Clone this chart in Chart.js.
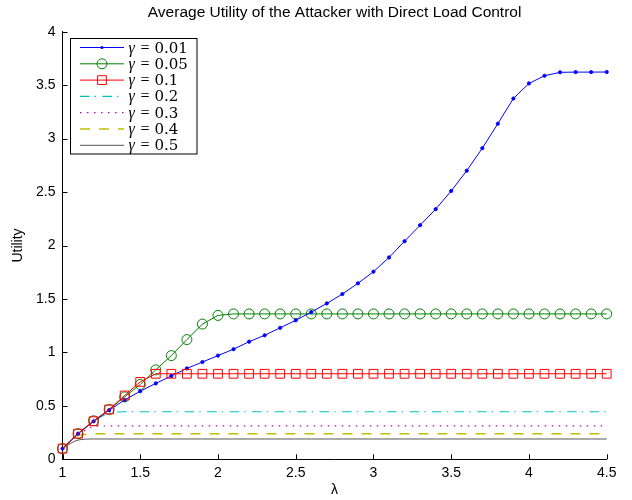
<!DOCTYPE html>
<html>
<head>
<meta charset="utf-8">
<script src="https://cdn.jsdelivr.net/npm/chart.js@4.4.0/dist/chart.umd.min.js"></script>
<style>
  html, body { margin: 0; padding: 0; background: #fff; }
</style>
</head>
<body>
<canvas id="utilityChart" width="632" height="500"></canvas>
<script>
// lambda values (x axis)
const lambdas = [1.0, 1.1, 1.2, 1.3, 1.4, 1.5, 1.6, 1.7, 1.8, 1.9,
                 2.0, 2.1, 2.2, 2.3, 2.4, 2.5, 2.6, 2.7, 2.8, 2.9,
                 3.0, 3.1, 3.2, 3.3, 3.4, 3.5, 3.6, 3.7, 3.8, 3.9,
                 4.0, 4.1, 4.2, 4.3, 4.4, 4.5];

const gammaLabels = ['0.01', '0.05', '0.1', '0.2', '0.3', '0.4', '0.5'];

const util001 = [0.10, 0.24, 0.355, 0.46, 0.555, 0.637, 0.71, 0.78, 0.85, 0.91,
                 0.97, 1.03, 1.10, 1.16, 1.23, 1.30, 1.377, 1.458, 1.546, 1.646,
                 1.755, 1.888, 2.04, 2.19, 2.34, 2.51, 2.70, 2.91, 3.14, 3.375,
                 3.516, 3.588, 3.62, 3.622, 3.622, 3.623];
const util005 = [0.10, 0.24, 0.36, 0.466, 0.584, 0.70, 0.837, 0.97, 1.12, 1.265,
                 1.346, 1.36, 1.36, 1.36, 1.36, 1.36, 1.36, 1.36, 1.36, 1.36,
                 1.36, 1.36, 1.36, 1.36, 1.36, 1.36, 1.36, 1.36, 1.36, 1.36,
                 1.36, 1.36, 1.36, 1.36, 1.36, 1.36];
const util01  = [0.10, 0.24, 0.356, 0.466, 0.597, 0.724, 0.80, 0.80, 0.80, 0.80,
                 0.80, 0.80, 0.80, 0.80, 0.80, 0.80, 0.80, 0.80, 0.80, 0.80,
                 0.80, 0.80, 0.80, 0.80, 0.80, 0.80, 0.80, 0.80, 0.80, 0.80,
                 0.80, 0.80, 0.80, 0.80, 0.80, 0.80];
const util02  = [0.10, 0.24, 0.36, 0.44, 0.445, 0.445, 0.445, 0.445, 0.445, 0.445,
                 0.445, 0.445, 0.445, 0.445, 0.445, 0.445, 0.445, 0.445, 0.445, 0.445,
                 0.445, 0.445, 0.445, 0.445, 0.445, 0.445, 0.445, 0.445, 0.445, 0.445,
                 0.445, 0.445, 0.445, 0.445, 0.445, 0.445];
const util03  = [0.10, 0.24, 0.31, 0.312, 0.312, 0.312, 0.312, 0.312, 0.312, 0.312,
                 0.312, 0.312, 0.312, 0.312, 0.312, 0.312, 0.312, 0.312, 0.312, 0.312,
                 0.312, 0.312, 0.312, 0.312, 0.312, 0.312, 0.312, 0.312, 0.312, 0.312,
                 0.312, 0.312, 0.312, 0.312, 0.312, 0.312];
const util04  = [0.10, 0.225, 0.24, 0.24, 0.24, 0.24, 0.24, 0.24, 0.24, 0.24,
                 0.24, 0.24, 0.24, 0.24, 0.24, 0.24, 0.24, 0.24, 0.24, 0.24,
                 0.24, 0.24, 0.24, 0.24, 0.24, 0.24, 0.24, 0.24, 0.24, 0.24,
                 0.24, 0.24, 0.24, 0.24, 0.24, 0.24];
const util05  = [0.10, 0.18, 0.19, 0.19, 0.19, 0.19, 0.19, 0.19, 0.19, 0.19,
                 0.19, 0.19, 0.19, 0.19, 0.19, 0.19, 0.19, 0.19, 0.19, 0.19,
                 0.19, 0.19, 0.19, 0.19, 0.19, 0.19, 0.19, 0.19, 0.19, 0.19,
                 0.19, 0.19, 0.19, 0.19, 0.19, 0.19];

const xTicks = [1, 1.5, 2, 2.5, 3, 3.5, 4, 4.5];
const xTickLabels = ['1', '1.5', '2', '2.5', '3', '3.5', '4', '4.5'];
const yTicks = [0, 0.5, 1, 1.5, 2, 2.5, 3, 3.5, 4];
const yTickLabels = ['0', '0.5', '1', '1.5', '2', '2.5', '3', '3.5', '4'];

const toPoints = vals => lambdas.map((l, i) => ({ x: l, y: vals[i] }));

function series(label, vals, color, extra) {
  return Object.assign({
    label: label,
    data: toPoints(vals),
    borderColor: color,
    backgroundColor: color,
    borderWidth: 1,
    pointRadius: 0,
    pointHoverRadius: 0,
    clip: false,
    tension: 0
  }, extra);
}

const datasets = [
  series(gammaLabels[0], util001, '#0000ff', { pointStyle: 'circle', pointRadius: 1.6, pointBackgroundColor: '#0000ff', order: 1 }),
  series(gammaLabels[1], util005, '#008000', { pointStyle: 'circle', pointRadius: 5, pointBackgroundColor: 'rgba(0,0,0,0)', pointBorderColor: '#008000', pointBorderWidth: 1, order: 2 }),
  series(gammaLabels[2], util01, '#ff0000', { pointStyle: 'rect', pointRadius: 6.2, pointBackgroundColor: 'rgba(0,0,0,0)', pointBorderColor: '#ff0000', pointBorderWidth: 1, order: 0 }),
  series(gammaLabels[3], util02, '#00bfbf', { borderDash: [9.5, 5, 1.5, 6.5], borderWidth: 1.2, order: 3 }),
  series(gammaLabels[4], util03, '#bf00bf', { borderDash: [1.5, 5.5], borderWidth: 1.2, order: 4 }),
  series(gammaLabels[5], util04, '#bfbf00', { borderDash: [10, 9], borderWidth: 1.5, order: 5 }),
  series(gammaLabels[6], util05, '#555555', { cubicInterpolationMode: 'monotone', order: 6 })
];

// center the title over the plot area, like MATLAB does
const titleOverPlot = {
  id: 'titleOverPlot',
  afterLayout(chart) {
    const t = chart.titleBlock;
    const a = chart.chartArea;
    if (!t) return;
    t.left = a.left;
    t.right = a.right;
    t.width = a.right - a.left;
  }
};

// MATLAB-style ticks pointing into the plot
const inwardTicks = {
  id: 'inwardTicks',
  afterDraw(chart) {
    const { ctx, chartArea: a, scales: { x, y } } = chart;
    ctx.save();
    ctx.strokeStyle = '#000';
    ctx.lineWidth = 1;
    ctx.beginPath();
    xTicks.forEach(v => {
      const px = Math.round(x.getPixelForValue(v)) + 0.5;
      ctx.moveTo(px, a.bottom);
      ctx.lineTo(px, a.bottom - 5);
    });
    yTicks.forEach(v => {
      const py = Math.round(y.getPixelForValue(v)) + 0.5;
      ctx.moveTo(a.left, py);
      ctx.lineTo(a.left + 5, py);
    });
    ctx.stroke();
    ctx.restore();
  }
};

// legend box with line + marker samples
const boxLegend = {
  id: 'boxLegend',
  afterDraw(chart) {
    const ctx = chart.ctx;
    const bx = 70.5, by = 38.5, bw = 126.5, bh = 115.5;
    ctx.save();
    ctx.fillStyle = '#fff';
    ctx.fillRect(bx, by, bw, bh);
    ctx.strokeStyle = '#000';
    ctx.lineWidth = 1;
    ctx.strokeRect(bx, by, bw, bh);

    chart.data.datasets.forEach((ds, i) => {
      const yy = 47.5 + i * 16.3;
      ctx.save();
      ctx.strokeStyle = ds.borderColor;
      ctx.lineWidth = ds.borderWidth;
      ctx.setLineDash(ds.borderDash || []);
      ctx.beginPath();
      ctx.moveTo(80, yy);
      ctx.lineTo(124, yy);
      ctx.stroke();
      ctx.setLineDash([]);
      if (ds.pointRadius > 0) {
        ctx.lineWidth = 1;
        ctx.beginPath();
        if (ds.pointStyle === 'rect') {
          const s = ds.pointRadius * Math.SQRT1_2;
          ctx.rect(102 - s, yy - s, 2 * s, 2 * s);
          ctx.strokeStyle = ds.pointBorderColor;
          ctx.stroke();
        } else {
          ctx.arc(102, yy, ds.pointRadius, 0, Math.PI * 2);
          if (ds.pointBorderColor) {
            ctx.strokeStyle = ds.pointBorderColor;
            ctx.stroke();
          } else {
            ctx.fillStyle = ds.borderColor;
            ctx.fill();
          }
        }
      }
      ctx.restore();

      ctx.fillStyle = '#000';
      ctx.textBaseline = 'alphabetic';
      ctx.font = 'italic 16px "Liberation Serif"';
      ctx.fillText('\u03b3', 128.5, yy + 5);
      ctx.font = '16px "Liberation Serif"';
      ctx.fillText('=', 140.5, yy + 5);
      ctx.font = '15px "DejaVu Serif"';
      ctx.fillText(ds.label, 154.5, yy + 5);
    });
    ctx.restore();
  }
};

const baseFont = '"Liberation Sans", Arial, sans-serif';

const ctx = document.getElementById('utilityChart').getContext('2d');
const utilityChart = new Chart(ctx, {
  type: 'line',
  data: { datasets: datasets },
  options: {
    responsive: false,
    animation: false,
    layout: { padding: { left: 0, right: 25.3, top: 0, bottom: 0 } },
    plugins: {
      legend: { display: false },
      tooltip: { enabled: false },
      title: {
        display: true,
        text: 'Average Utility of the Attacker with Direct Load Control',
        color: '#000',
        font: { family: baseFont, size: 15.5, weight: 'normal' },
        padding: { top: 3.7, bottom: 9.4 }
      }
    },
    scales: {
      x: {
        type: 'linear',
        min: 1,
        max: 4.5,
        afterBuildTicks: s => { s.ticks = xTicks.map(v => ({ value: v })); },
        afterFit: s => { s.height = 40.7; },
        grid: { display: true, drawOnChartArea: false, drawTicks: false },
        border: { display: true, color: '#000', width: 1 },
        ticks: {
          color: '#000',
          padding: 5,
          font: { family: baseFont, size: 14 },
          callback: (v, i) => xTickLabels[i]
        },
        title: {
          display: true,
          text: '\u03bb',
          color: '#000',
          font: { family: baseFont, size: 14 },
          padding: { top: 0, bottom: 1.6 }
        }
      },
      y: {
        min: 0,
        max: 4,
        afterBuildTicks: s => { s.ticks = yTicks.map(v => ({ value: v })); },
        afterFit: s => { s.width = 62.5; },
        grid: { display: true, drawOnChartArea: false, drawTicks: false },
        border: { display: true, color: '#000', width: 1 },
        ticks: {
          color: '#000',
          padding: 7,
          font: { family: baseFont, size: 14 },
          callback: (v, i) => yTickLabels[i]
        },
        title: {
          display: true,
          text: 'Utility',
          color: '#000',
          font: { family: baseFont, size: 14 },
          padding: { top: 9.6, bottom: 0 }
        }
      }
    }
  },
  plugins: [titleOverPlot, inwardTicks, boxLegend]
});
</script>
</body>
</html>
